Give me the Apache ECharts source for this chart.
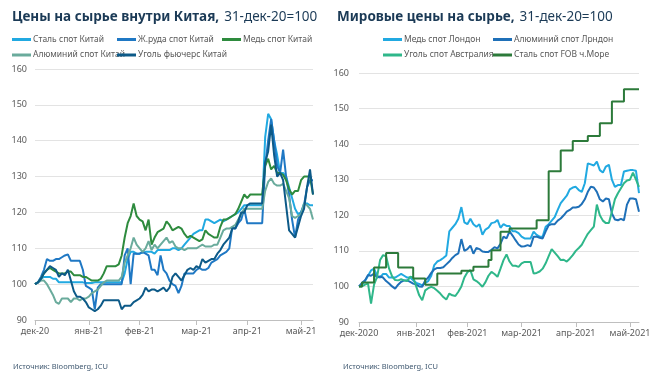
<!DOCTYPE html>
<html><head><meta charset="utf-8">
<script src="https://cdn.jsdelivr.net/npm/echarts@6/dist/echarts.min.js"></script>
<style>html,body{margin:0;padding:0;background:#fff}#c{width:663px;height:384px}</style>
</head><body><div id="c"></div>
<script>
const titleChinaBold = 'Цены на сырье внутри Китая,';
const titleWorldBold = 'Мировые цены на сырье,';
const titleBase = '31-дек-20=100';
const sourceText = 'Источник: Bloomberg, ICU';

const xLabelsChina = ['дек-20','янв-21','фев-21','мар-21','апр-21','май-21'];
const xLabelIdxChina = [0,18,35,54,71,89];
const xLabelsWorld = ['дек-2020','янв-2021','фев-2021','мар-2021','апр-2021','май-2021'];
const xLabelIdxWorld = [0,19,36,54,72,90];
const yTicks = [90,100,110,120,130,140,150,160];

const chinaNames = ['Сталь спот Китай','Ж.руда спот Китай','Медь спот Китай','Алюминий спот Китай','Уголь фьючерс Китай'];
const worldNames = ['Медь спот Лондон','Алюминий спот Лрндон','Уголь спот Австралия','Сталь спот FOB ч.Море'];

const steelChina = [100,100.5,101.5,102,102,102,101.5,101.5,100.5,100.5,
100.5,100.5,100.5,100.5,100.5,100.5,100.5,100.3,100.3,100.3,
100.5,100.5,100.5,100.5,100.5,100.5,100.5,100.5,100.5,100.5,
103,107,109,109,108.5,108.5,108.8,109,109,109,
108.5,109.5,109.5,109.5,109.5,109.5,110,110,109.5,110,
111,112,113,114,114.5,115,115,118,118,117.5,
117,117.5,118,117.5,118,118.5,119,119.5,120,121,
122,122,122,122,122,122,122,141,147.5,146,
140,136,131,131,130,127,124,121,119.5,120,
122.5,122.5,122,122];
const oreChina = [100,100.5,102,104,107,106.5,106.5,107,107,107.5,
108,108.3,106.5,106.5,106.5,106.5,104,99.5,99,98.5,
93,99,100,100,100,100,100,100,100,100,
108,110,100,108.5,108.5,108.5,109,108.5,108,104,
104,102.5,108,104,103,101,100,99.5,97.5,99.5,
103,103,103,103,104,104.5,104,104,104.5,106,
106.5,107,108,108.5,109,110,116,115.5,117,118,
121,117,117,117,117,117,117,133,140,146,
140,133,131,137.5,130,125,118,113,118,120,
122,127,129,129];
const copperChina = [100,100.5,101.5,103,104,104.5,104,103.5,103,103,
103,103.5,103.5,102.5,102.5,102.5,102,102,101.5,101,
101,101,101.5,103,105,105,105,105,105.5,108,
113,117,119,122.5,119,118,117.5,115,118,111,
113,114.5,115,115.5,117.5,116.5,115,115.5,116,115.5,
114,113,113.5,113,112.5,112,112.5,115,114,113.5,
113,113,116,118,118,118.5,119,119.5,121,123,
125,124,125,125,125,125,125,133,135,132,
133,131,131,130.5,129,126.5,125,126,126,129,
130,130,130,125];
const aluChina = [100,100.5,101,101,100,98.5,97,95,94.5,96,
96,96,95,96,96,95.5,96,96,96.5,97.5,
98,98.5,99.5,100.5,101,101,101,101,101,102,
106,108,110,113,111,110,109,110,112,109.5,
111,110,111,112,113,111.5,112,110.5,110,110,
109.5,110,110,110,110,110.5,111,110.5,110.5,110.5,
111,111,113,115,115.5,115.5,116,116.5,118,119.5,
121,121,121,121,121,121,121,126,128.5,129.5,
128,127.5,127.5,128,126,124,119,118.5,119,119.5,
122.5,122,121,118];
const coalChina = [100,100.5,101.5,103,104,105,104.5,104,102,103,
102.5,104,101,98,96.5,96.5,96,95,93.5,93,
92.5,93,94,95.5,95.5,95.5,95.5,95.5,95.5,93,
94,94,94,95,95.5,96,97,99,98,98.5,
98.5,98,98.5,99,98,99,102,103,102,101,
102.5,104,104.5,104,105,104.5,107,106,106.5,107,
107,108.5,109.5,111,112,113,115.5,115.5,117.5,120,
120,122,122.5,122.5,122.5,122.5,122.5,134,137,144.5,
136,130,131,129,122,115,114,113,116,119,
121,127,132,125];

const copperLondon = [100,100.5,101.5,103,104.5,105,103,102.5,103.5,103.5,
102.5,102.5,102.5,103,103.5,103,102.5,102.5,101.7,101,
100.7,100.3,101,101.5,103,106,107,107.4,108,108.7,
115.5,116.5,117.5,119,122.3,118,117.5,119,117.5,116.8,
117.5,114.5,116,116.5,117.8,118,118.7,116.5,117.5,117,
117,115.5,115.5,115,114,113.5,113.5,113.5,115.4,114.5,
114,114,116.8,117.5,118.5,119.5,121.5,123.4,124.5,125.5,
127.3,127.8,128,127.1,126.6,129,134.6,134.3,134,135.1,
132.7,132,133.7,134.2,130,128,128.5,128.5,132.3,132.5,
132.7,132.7,132.5,126.2];
const aluLondon = [100,101,101.7,103.2,103,103.6,102.5,102.8,102.5,101.5,
100.8,100,99.4,100.5,101.3,101.7,101.7,101.3,100.8,100.5,
100,99.9,101.7,102.5,103.8,104.8,105.2,105.2,105.4,106.2,
107,108,108.8,109.3,113.3,110,110.5,111.5,109.2,110.8,
110.5,109.8,109.7,109.7,110.3,111,110.7,112,114,113.5,
115.5,114.3,113,111.8,111.2,111.3,111.6,111.3,114,114,
113.7,113.5,115.5,117.2,117.5,117.5,118.5,119.1,120,121,
121.5,122.2,122.2,122.4,123.2,124.5,126.6,128,127.8,126.6,
124.5,123.9,124.7,124.5,120.5,118.8,118.6,119,118.6,123,
124.7,124.7,124.5,121];
const coalAustralia = [100,100,100.5,100.8,95.2,100.5,102.7,107.4,108.8,108.5,
105,102.8,101.8,101.7,102,101.7,101.5,102.7,102.5,100,
97.5,96.1,98.9,99.5,99.9,99.5,98.8,98,97,96.3,
98,97.5,97.3,98.5,100,102.5,104,104.6,102,101.5,
100.8,99.9,101.2,103,104.1,103.5,102.7,105,107.4,109,
107,105.8,105.8,105.5,106.5,106.9,106.9,106.9,103.6,103.8,
104.2,105,106.5,108.5,110.5,109.5,108.5,107.4,107.5,107,
107.8,108.8,110,110.8,111.7,113.3,114.8,115.8,116.8,123,
120,118.5,117.8,117.8,121,124.5,126.2,127.6,129,129.8,
130,132,130,128];
const steelFobBlackSea = [100,101.1,101.1,101.1,101.1,105.3,105.3,105.3,105.3,109.4,
109.4,109.4,109.4,105.3,105.3,105.3,105.3,105.3,102.2,102.2,
102.2,102.2,100.5,100.5,100.5,100.5,103.6,103.6,103.6,103.6,
103.6,103.6,103.6,103.6,104.4,104.4,104.4,104.4,105.5,105.5,
105.5,105.5,105.5,107.4,110.2,110.2,110.2,115.4,115.4,115.4,
116.3,116.3,116.3,116.3,116.3,116.3,116.3,116.3,116.3,118.6,
118.6,118.6,118.6,132.4,132.4,132.4,132.4,138.2,138.2,138.2,
138.2,140.9,140.9,140.9,140.9,140.9,142.3,142.3,142.3,142.3,
145.9,145.9,145.9,145.9,152,152,152,152,155.4,155.4,
155.4,155.4,155.4,155.4];

const chinaSeries = [steelChina, oreChina, copperChina, aluChina, coalChina];
const worldSeries = [copperLondon, aluLondon, coalAustralia, steelFobBlackSea];
const chinaColors = ['#21a9e1','#1f78c4','#2e8b3e','#6aab9c','#0d5a88'];
const worldColors = ['#21a9e1','#1f70b8','#2fb78a','#2c7a3a'];

const FONT = 'Noto Sans';
const N = Math.max(...chinaSeries.map(s => s.length));
const cats = Array.from({length: N}, (_, i) => String(i));

function xAxis(gridIndex, idxs, labels) {
  const show = (i) => idxs.indexOf(i) >= 0;
  return {
    type: 'category', gridIndex, data: cats, boundaryGap: false,
    axisLine: {show: true, lineStyle: {color: '#bfbfbf', width: 1}},
    axisTick: {show: true, interval: show, length: 5, lineStyle: {color: '#bfbfbf'}},
    axisLabel: {interval: show, margin: 7, color: '#595959', fontSize: 9, fontFamily: FONT,
      formatter: (v, i) => { const k = idxs.indexOf(Number(v)); return k >= 0 ? labels[k] : ''; }},
    splitLine: {show: false}
  };
}
function yAxis(gridIndex, margin) {
  return {
    type: 'value', gridIndex, min: yTicks[0], max: yTicks[yTicks.length - 1], interval: 10,
    axisLine: {show: false}, axisTick: {show: false},
    axisLabel: {color: '#595959', fontSize: 9, fontFamily: FONT, margin},
    splitLine: {lineStyle: {color: '#e3e3e3', width: 1}}
  };
}
function legend(name, left, top) {
  return {data: [name], left, top, icon: 'rect', itemWidth: 19, itemHeight: 3, padding: 0,
    selectedMode: false, textStyle: {color: '#595959', fontSize: 8.5, fontFamily: FONT, padding: [0,0,0,-3]}};
}

const series = [];
chinaNames.forEach((n, k) => series.push({name: n, type: 'line', xAxisIndex: 0, yAxisIndex: 0,
  data: chinaSeries[k], symbol: 'none', lineStyle: {width: 2, color: chinaColors[k]}, itemStyle: {color: chinaColors[k]}}));
worldNames.forEach((n, k) => series.push({name: n, type: 'line', xAxisIndex: 1, yAxisIndex: 1,
  data: worldSeries[k], symbol: 'none', step: k === 3 ? 'end' : false,
  lineStyle: {width: 2, color: worldColors[k]}, itemStyle: {color: worldColors[k]}}));

const titleRich = {b: {fontWeight: 'bold', fontSize: 13.5, color: '#1b3a56', fontFamily: FONT},
  n: {fontWeight: 'normal', fontSize: 13.5, color: '#1b3a56', fontFamily: FONT}};

const chart = echarts.init(document.getElementById('c'));
chart.setOption({
  animation: false,
  title: [
    {text: '{b|' + titleChinaBold + '} {n|' + titleBase + '}', left: 12, top: 8, padding: 0, textStyle: {rich: titleRich}},
    {text: '{b|' + titleWorldBold + '} {n|' + titleBase + '}', left: 337, top: 8, padding: 0, textStyle: {rich: titleRich}}
  ],
  legend: [
    legend(chinaNames[0], 12, 35), legend(chinaNames[1], 117, 35), legend(chinaNames[2], 222, 35),
    legend(chinaNames[3], 12, 50.5), legend(chinaNames[4], 117, 50.5),
    legend(worldNames[0], 383, 35), legend(worldNames[1], 493, 35),
    legend(worldNames[2], 383, 50.5), legend(worldNames[3], 493, 50.5)
  ],
  grid: [
    {left: 35, right: 350, top: 69, bottom: 64, containLabel: false},
    {left: 359, right: 24, top: 73, bottom: 62, containLabel: false}
  ],
  xAxis: [xAxis(0, xLabelIdxChina, xLabelsChina), xAxis(1, xLabelIdxWorld, xLabelsWorld)],
  yAxis: [yAxis(0, 8), yAxis(1, 10)],
  series,
  graphic: [
    {type: 'text', left: 13, top: 363, style: {text: sourceText, fill: '#3f5870', fontSize: 7.5, fontFamily: FONT}},
    {type: 'text', left: 343, top: 363, style: {text: sourceText, fill: '#3f5870', fontSize: 7.5, fontFamily: FONT}}
  ]
});
</script></body></html>
